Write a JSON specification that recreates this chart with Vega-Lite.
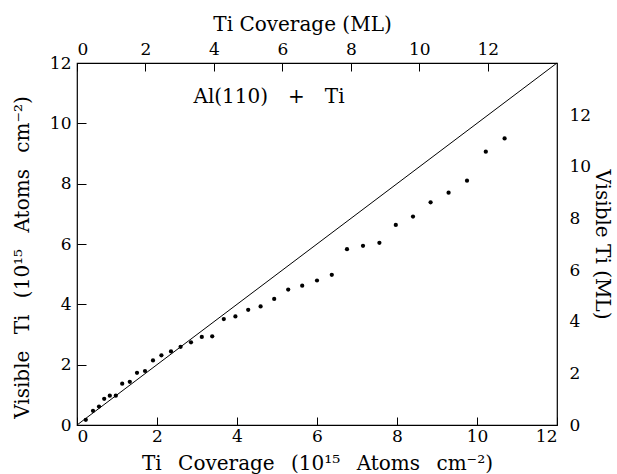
{
  "$schema": "https://vega.github.io/schema/vega-lite/v6.json",
  "width": 480,
  "height": 362,
  "autosize": "none",
  "padding": {"left": 77, "top": 63, "right": 60, "bottom": 49},
  "background": "white",
  "config": {
    "view": {"stroke": "black", "strokeWidth": 1.2, "fill": null},
    "font": "DejaVu Serif",
    "axis": {
      "grid": false,
      "ticks": false,
      "domain": false,
      "zindex": 1,
      "tickColor": "black",
      "tickWidth": 1,
      "tickOpacity": 1,
      "labelColor": "black",
      "titleColor": "black",
      "labelFont": "DejaVu Serif",
      "titleFont": "DejaVu Serif",
      "labelFontSize": 17,
      "titleFontSize": 20,
      "titleFontWeight": "normal"
    }
  },
  "layer": [
    {
      "data": {"values": [
        {"x": 0.22, "y": 0.17}, {"x": 0.40, "y": 0.47}, {"x": 0.55, "y": 0.61}, {"x": 0.68, "y": 0.87},
        {"x": 0.82, "y": 0.97}, {"x": 0.97, "y": 0.97}, {"x": 1.13, "y": 1.37}, {"x": 1.32, "y": 1.43},
        {"x": 1.50, "y": 1.73}, {"x": 1.70, "y": 1.79}, {"x": 1.90, "y": 2.14}, {"x": 2.11, "y": 2.31},
        {"x": 2.35, "y": 2.44}, {"x": 2.59, "y": 2.59}, {"x": 2.85, "y": 2.74}, {"x": 3.12, "y": 2.92},
        {"x": 3.38, "y": 2.94}, {"x": 3.67, "y": 3.51}, {"x": 3.96, "y": 3.60}, {"x": 4.28, "y": 3.82},
        {"x": 4.59, "y": 3.93}, {"x": 4.93, "y": 4.18}, {"x": 5.28, "y": 4.49}, {"x": 5.63, "y": 4.62},
        {"x": 6.00, "y": 4.79}, {"x": 6.37, "y": 4.98}, {"x": 6.75, "y": 5.83}, {"x": 7.15, "y": 5.94},
        {"x": 7.56, "y": 6.04}, {"x": 7.97, "y": 6.63}, {"x": 8.40, "y": 6.91}, {"x": 8.84, "y": 7.38},
        {"x": 9.29, "y": 7.70}, {"x": 9.75, "y": 8.10}, {"x": 10.22, "y": 9.06}, {"x": 10.69, "y": 9.50}
      ]},
      "mark": {"type": "circle", "size": 18, "color": "black", "opacity": 1},
      "encoding": {
        "x": {
          "field": "x", "type": "quantitative",
          "scale": {"domain": [0, 12], "nice": false, "zero": false},
          "axis": {
            "orient": "bottom", "values": [0, 2, 4, 6, 8, 10, 12],
            "title": "Ti \u2002Coverage \u2002(10¹⁵ \u2002Atoms \u2002cm⁻²)",
            "ticks": true, "tickSize": 8, "offset": -8,
            "labelPadding": 3, "titlePadding": 9
          }
        },
        "y": {
          "field": "y", "type": "quantitative",
          "scale": {"domain": [0, 12], "nice": false, "zero": false},
          "axis": {
            "orient": "left", "values": [0, 2, 4, 6, 8, 10, 12],
            "title": "Visible \u2002Ti \u2002(10¹⁵ \u2002Atoms \u2002cm⁻²)",
            "ticks": true, "tickSize": 9, "offset": -9,
            "labelPadding": 6, "titlePadding": 17, "titleY": 194
          }
        }
      }
    },
    {
      "data": {"values": [{"x": 0, "y": 0}, {"x": 12, "y": 12}]},
      "mark": {"type": "line", "color": "black", "strokeWidth": 1},
      "encoding": {
        "x": {"field": "x", "type": "quantitative", "axis": null},
        "y": {"field": "y", "type": "quantitative", "axis": null}
      }
    },
    {
      "data": {"values": [{"x": 4.8, "y": 10.87, "label": "Al(110)\u2002\u2002+\u2002\u2002Ti"}]},
      "mark": {"type": "text", "fontSize": 20, "font": "DejaVu Serif", "color": "black"},
      "encoding": {
        "x": {"field": "x", "type": "quantitative", "axis": null},
        "y": {"field": "y", "type": "quantitative", "axis": null},
        "text": {"field": "label"}
      }
    },
    {
      "data": {"values": [{"x": 0, "y": 0}]},
      "mark": {"type": "point", "opacity": 0},
      "encoding": {
        "x": {
          "field": "x", "type": "quantitative",
          "axis": {
            "orient": "top", "values": [0, 1.712, 3.424, 5.136, 6.847, 8.559, 10.271],
            "labelExpr": "format(datum.value / 0.8559, '.0f')",
            "title": "Ti Coverage (ML)", "titleX": 225,
            "ticks": true, "tickSize": 8, "offset": -8,
            "labelPadding": 5, "titlePadding": 6
          }
        },
        "y": {
          "field": "y", "type": "quantitative",
          "axis": {
            "orient": "right", "values": [0, 1.712, 3.424, 5.136, 6.847, 8.559, 10.271],
            "labelExpr": "format(datum.value / 0.8559, '.0f')",
            "title": "Visible Ti (ML)",
            "labelPadding": 12, "titlePadding": 1
          }
        }
      }
    }
  ],
  "resolve": {"axis": {"x": "independent", "y": "independent"}}
}
